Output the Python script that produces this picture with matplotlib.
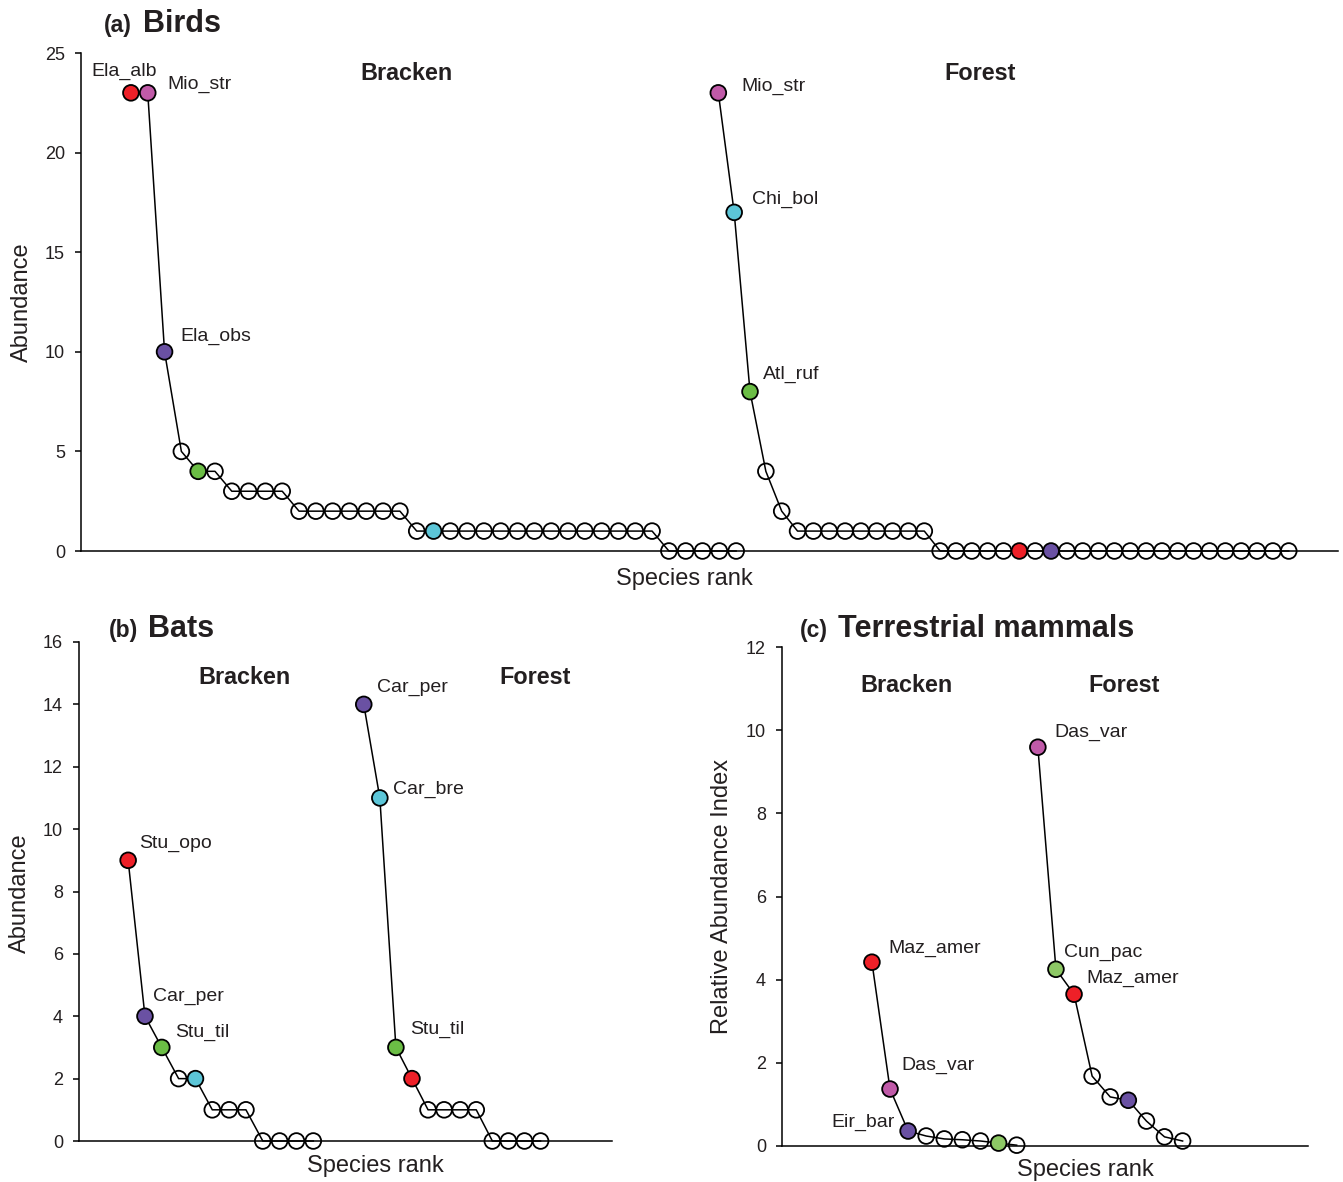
import numpy as np
import matplotlib
matplotlib.use("Agg")
import matplotlib.pyplot as plt

plt.rcParams['font.family'] = ['Liberation Sans', 'DejaVu Sans']

W, H = 1343, 1182
TXT = '#231f20'

# ---- data ----
birds_bracken = [23, 23, 10, 5, 4, 4, 3, 3, 3, 3, 2, 2, 2, 2, 2, 2, 2,
                 1, 1, 1, 1, 1, 1, 1, 1, 1, 1, 1, 1, 1, 1, 1,
                 0, 0, 0, 0, 0]
birds_forest = [23, 17, 8, 4, 2, 1, 1, 1, 1, 1, 1, 1, 1, 1,
                0, 0, 0, 0, 0, 0, 0, 0, 0, 0, 0, 0, 0, 0, 0, 0, 0, 0, 0, 0, 0, 0, 0]
birds_bracken_sp = {0: 'Ela_alb', 1: 'Mio_str', 2: 'Ela_obs', 4: 'Atl_ruf', 18: 'Chi_bol'}
birds_forest_sp = {0: 'Mio_str', 1: 'Chi_bol', 2: 'Atl_ruf', 19: 'Ela_alb', 21: 'Ela_obs'}

bats_bracken = [9, 4, 3, 2, 2, 1, 1, 1, 0, 0, 0, 0]
bats_forest = [14, 11, 3, 2, 1, 1, 1, 1, 0, 0, 0, 0]
bats_bracken_sp = {0: 'Stu_opo', 1: 'Car_per', 2: 'Stu_til', 4: 'Car_bre'}
bats_forest_sp = {0: 'Car_per', 1: 'Car_bre', 2: 'Stu_til', 3: 'Stu_opo'}

mam_bracken = [4.42, 1.37, 0.36, 0.24, 0.17, 0.15, 0.12, 0.07, 0.02]
mam_forest = [9.59, 4.25, 3.65, 1.68, 1.18, 1.10, 0.60, 0.22, 0.12]
mam_bracken_sp = {0: 'Maz_amer', 1: 'Das_var', 2: 'Eir_bar', 7: 'Cun_pac'}
mam_forest_sp = {0: 'Das_var', 1: 'Cun_pac', 2: 'Maz_amer', 5: 'Eir_bar'}

# ---- styles ----
RED, PINK, PURPLE, CYAN = '#ee2028', '#c05aa8', '#6a51a3', '#5cc6d8'
GREEN, LGREEN = '#6bbd45', '#8dc865'
bird_cols = {'Ela_alb': RED, 'Mio_str': PINK, 'Ela_obs': PURPLE, 'Atl_ruf': GREEN, 'Chi_bol': CYAN}
bat_cols = {'Stu_opo': RED, 'Car_per': PURPLE, 'Stu_til': GREEN, 'Car_bre': CYAN}
mam_cols = {'Maz_amer': RED, 'Das_var': PINK, 'Eir_bar': PURPLE, 'Cun_pac': LGREEN}


def px(x, y):
    return x / W, 1 - y / H


def ranks(start, n, step=1.0):
    return start + np.arange(n) * step


def draw_series(ax, x, vals, sp, cols, labels):
    ax.plot(x, vals, color='black', lw=1.1, zorder=2, clip_on=False)
    # open circles are hollow, so the line shows through them
    fc = [cols[sp[i]] if i in sp else 'none' for i in range(len(vals))]
    ax.scatter(x, vals, s=128, c=fc, edgecolors='black', linewidths=1.3,
               zorder=3, clip_on=False)
    for i, (dx, dy, ha) in labels.items():
        ax.annotate(sp[i], xy=(x[i], vals[i]), xytext=(dx, dy),
                    textcoords='offset pixels', ha=ha, va='center',
                    fontsize=14, color=TXT)


def style_axes(ax, ymax, ystep):
    for s in ['top', 'right']:
        ax.spines[s].set_visible(False)
    for s in ['left', 'bottom']:
        ax.spines[s].set_linewidth(1.1)
        ax.spines[s].set_color('black')
    ax.set_xticks([])
    ax.set_ylim(0, ymax)
    ax.set_yticks(np.arange(0, ymax + 0.1, ystep))
    ax.tick_params(axis='y', direction='out', length=4.5, width=1.1,
                   labelsize=13, labelcolor=TXT, pad=7)


fig = plt.figure(figsize=(W / 100, H / 100), dpi=100)

# (a) birds
axa = fig.add_axes([81 / W, 1 - 551 / H, (1338 - 81) / W, (551 - 53) / H])
style_axes(axa, 25, 5)
axa.set_xlim(-1.97, 72.8)
xb = ranks(1, len(birds_bracken), 1.0)
xf = ranks(35.94, len(birds_forest), 0.9425)
draw_series(axa, xb, birds_bracken, birds_bracken_sp, bird_cols,
            {0: (-40, 21, 'left'), 1: (20, 8, 'left'), 2: (16, 15, 'left')})
draw_series(axa, xf, birds_forest, birds_forest_sp, bird_cols,
            {0: (23, 6, 'left'), 1: (18, 13, 'left'), 2: (13, 17, 'left')})

# (b) bats
axb = fig.add_axes([79 / W, 1 - 1141 / H, (612 - 79) / W, (1141 - 642) / H])
style_axes(axb, 16, 2)
axb.set_xlim(-1.92, 29.75)
xb = ranks(1, len(bats_bracken), 1.0)
xf = ranks(15.0, len(bats_forest), 0.955)
draw_series(axb, xb, bats_bracken, bats_bracken_sp, bat_cols,
            {0: (11, 17, 'left'), 1: (8, 20, 'left'), 2: (13, 15, 'left')})
draw_series(axb, xf, bats_forest, bats_forest_sp, bat_cols,
            {0: (13, 17, 'left'), 1: (13, 9, 'left'), 2: (14, 18, 'left')})

# (c) terrestrial mammals
axc = fig.add_axes([782 / W, 1 - 1146 / H, (1308 - 782) / W, (1146 - 647) / H])
style_axes(axc, 12, 2)
axc.set_xlim(-3.97, 25.1)
xb = ranks(1, len(mam_bracken), 1.0)
xf = ranks(10.17, len(mam_forest), 1.0)
draw_series(axc, xb, mam_bracken, mam_bracken_sp, mam_cols,
            {0: (16, 14, 'left'), 1: (11, 24, 'left'), 2: (-13, 9, 'right')})
draw_series(axc, xf, mam_forest, mam_forest_sp, mam_cols,
            {0: (17, 15, 'left'), 1: (8, 17, 'left'), 2: (12, 16, 'left')})

# titles, habitat labels and axis labels
for (xp, yp), (xn, tag, name) in [((104, 32), (143, '(a)', 'Birds')),
                                  ((109, 637), (148, '(b)', 'Bats')),
                                  ((800, 637), (838, '(c)', 'Terrestrial mammals'))]:
    fig.text(*px(xp, yp), tag, fontsize=16.5, fontweight='bold',
             color=TXT, va='baseline', ha='left')
    fig.text(*px(xn, yp), name, fontsize=22, fontweight='bold',
             color=TXT, va='baseline', ha='left')

for (xp, yp), lab in [((407, 74), 'Bracken'), ((980, 74), 'Forest'),
                      ((245, 678), 'Bracken'), ((535, 678), 'Forest'),
                      ((906, 685), 'Bracken'), ((1124, 685), 'Forest')]:
    fig.text(*px(xp, yp), lab, fontsize=16.8, fontweight='bold', color=TXT,
             ha='center', va='center')

for (xp, yp), lab in [((684, 579), 'Species rank'), ((375, 1166), 'Species rank'),
                      ((1085, 1170), 'Species rank')]:
    fig.text(*px(xp, yp), lab, fontsize=17, color=TXT, ha='center', va='center')

for (xp, yp), lab in [((22, 302), 'Abundance'), ((20, 893), 'Abundance'),
                      ((722, 896), 'Relative Abundance Index')]:
    fig.text(*px(xp, yp), lab, fontsize=17, color=TXT, rotation=90,
             ha='center', va='center')

fig.savefig('out.png', dpi=100)
